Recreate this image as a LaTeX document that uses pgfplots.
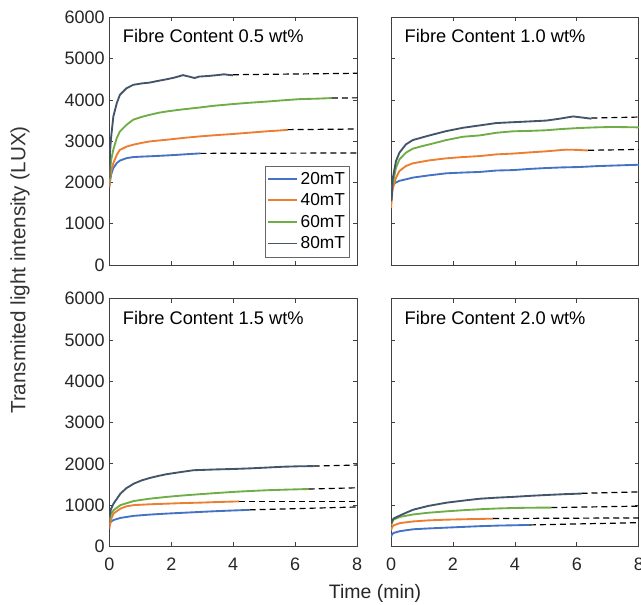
\documentclass[border=0pt]{standalone}
\usepackage{fontspec}
\setmainfont{Liberation Sans}
\usepackage{pgfplots}
\pgfplotsset{compat=1.18}
\usepgfplotslibrary{groupplots}

\definecolor{c20}{HTML}{4472C4}
\definecolor{c40}{HTML}{ED7D31}
\definecolor{c60}{HTML}{70AD47}
\definecolor{c80}{HTML}{44546A}

\tikzset{
  meas/.style={line width=1.4pt},
  fit/.style={black, line width=0.9pt, dash pattern=on 4.5pt off 3pt},
}
\newcommand{\paneltitle}[1]{%
  \node[anchor=base west, inner sep=0pt, font=\fontsize{13.7}{16}\selectfont, text=black]
    at ([xshift=10pt,yshift=-19pt]rel axis cs:0,1) {#1};}

\begin{document}
\begin{tikzpicture}
\begin{groupplot}[
  group style={group size=2 by 2, horizontal sep=25.5pt, vertical sep=25.2pt,
    xticklabels at=edge bottom, yticklabels at=edge left},
  scale only axis, width=185.8pt, height=185.8pt,
  xmin=0, xmax=8, ymin=0, ymax=6000,
  xtick={0,2,4,6,8}, ytick={0,1000,...,6000},
  tick align=inside, major tick length=3pt,
  axis line style={black!75, line width=0.6pt},
  every tick/.style={black!75, line width=0.6pt},
  tick label style={font=\fontsize{13.5}{16}\selectfont, text=black!85},
  xticklabel style={yshift=-5pt},
  /pgf/number format/assume math mode=true,
  /pgf/number format/1000 sep={},
  scaled ticks=false,
  legend cell align=left,
  legend image code/.code={\draw[#1] (0pt,0.3pt) -- (22pt,0.3pt);},
  legend style={at={(1,0)}, anchor=south east, xshift=-5.8pt, yshift=5.8pt,
    draw=black!60, line width=0.6pt, font=\fontsize{13}{15}\selectfont,
    inner xsep=1pt, inner ysep=2.5pt, row sep=1.6pt},
]
% ---- 0.5 wt% ----
\nextgroupplot
\paneltitle{Fibre Content 0.5 wt\%}
\addplot[meas, c20] coordinates {(0,1900)(0.02,2020)(0.06,2200)(0.13,2350)(0.24,2470)(0.34,2530)(0.56,2590)(0.77,2615)(1.0,2625)(1.31,2635)(1.6,2645)(1.85,2655)(2.2,2670)(2.5,2685)(2.94,2705)};
\addlegendentry{20mT}
\addplot[meas, c40] coordinates {(0,1880)(0.02,2050)(0.06,2280)(0.13,2470)(0.24,2670)(0.34,2790)(0.56,2870)(0.77,2915)(1.05,2960)(1.31,2995)(1.85,3035)(2.4,3080)(2.9,3115)(3.5,3150)(4.0,3175)(4.5,3205)(5.09,3240)(5.5,3260)(5.76,3275)};
\addlegendentry{40mT}
\addplot[meas, c60] coordinates {(0,2000)(0.02,2250)(0.06,2550)(0.13,2800)(0.24,3075)(0.34,3235)(0.56,3400)(0.77,3520)(1.05,3590)(1.31,3640)(1.6,3690)(1.85,3720)(2.3,3765)(2.9,3815)(3.4,3860)(4.0,3900)(4.5,3930)(5.09,3960)(5.6,3990)(6.17,4020)(6.7,4030)(7.19,4045)};
\addlegendentry{60mT}
\addplot[meas, c80] coordinates {(0,2100)(0.02,2700)(0.05,3040)(0.13,3600)(0.24,3920)(0.34,4120)(0.56,4285)(0.77,4365)(1.05,4400)(1.31,4420)(1.5,4450)(1.85,4500)(2.1,4540)(2.38,4600)(2.6,4560)(2.75,4530)(2.9,4565)(3.2,4580)(3.48,4600)(3.7,4620)(3.99,4595)};
\addlegendentry{80mT}
\addplot[fit, forget plot] coordinates {(2.94,2705)(8,2715)};
\addplot[fit, forget plot] coordinates {(5.76,3280)(8,3295)};
\addplot[fit, forget plot] coordinates {(7.19,4045)(8,4050)};
\addplot[fit, forget plot] coordinates {(3.99,4610)(8,4645)};

% ---- 1.0 wt% ----
\nextgroupplot
\paneltitle{Fibre Content 1.0 wt\%}
\addplot[meas, c20] coordinates {(0,1500)(0.02,1750)(0.05,1950)(0.16,2000)(0.27,2040)(0.48,2077)(0.7,2118)(1.24,2174)(1.78,2222)(2.3,2240)(2.86,2255)(3.4,2290)(3.94,2300)(4.5,2330)(5.01,2350)(5.5,2365)(6.09,2375)(6.6,2395)(7.17,2410)(8,2430)};
\addplot[meas, c40] coordinates {(0,1380)(0.02,1600)(0.05,1836)(0.16,2118)(0.27,2278)(0.48,2399)(0.7,2464)(1.0,2505)(1.24,2536)(1.78,2585)(2.3,2615)(2.86,2640)(3.4,2681)(3.94,2700)(4.5,2730)(5.01,2755)(5.4,2780)(5.66,2795)(6.0,2790)(6.36,2775)};
\addplot[meas, c60] coordinates {(0,1580)(0.02,1750)(0.05,1956)(0.16,2359)(0.27,2560)(0.48,2722)(0.7,2818)(1.0,2880)(1.24,2923)(1.78,3027)(2.32,3108)(2.86,3140)(3.4,3204)(3.94,3240)(4.5,3250)(5.01,3265)(5.5,3295)(6.09,3320)(6.6,3335)(7.17,3345)(8,3335)};
\addplot[meas, c80] coordinates {(0,1550)(0.02,1594)(0.05,2077)(0.16,2520)(0.27,2722)(0.48,2923)(0.7,3027)(1.0,3090)(1.24,3140)(1.78,3244)(2.32,3325)(2.86,3382)(3.4,3440)(3.94,3460)(4.5,3480)(5.01,3500)(5.4,3540)(5.88,3600)(6.1,3580)(6.47,3545)};
\addplot[fit] coordinates {(6.36,2780)(8,2800)};
\addplot[fit] coordinates {(6.47,3560)(8,3585)};

% ---- 1.5 wt% ----
\nextgroupplot
\paneltitle{Fibre Content 1.5 wt\%}
\addplot[meas, c20] coordinates {(0,510)(0.05,600)(0.14,640)(0.36,690)(0.79,740)(1.3,770)(1.86,795)(2.4,815)(2.94,835)(3.5,855)(4.0,870)(4.53,885)};
\addplot[meas, c40] coordinates {(0,430)(0.05,650)(0.14,800)(0.36,915)(0.55,970)(0.79,1000)(1.3,1020)(1.86,1035)(2.4,1050)(2.94,1060)(3.5,1075)(4.18,1090)};
\addplot[meas, c60] coordinates {(0,620)(0.05,780)(0.14,880)(0.36,1000)(0.79,1100)(1.3,1155)(1.86,1200)(2.4,1235)(2.94,1265)(3.5,1295)(4.01,1320)(4.5,1340)(5.09,1360)(5.7,1375)(6.44,1390)};
\addplot[meas, c80] coordinates {(0,700)(0.05,900)(0.14,1040)(0.36,1280)(0.55,1410)(0.79,1520)(1.05,1600)(1.32,1660)(1.6,1710)(1.86,1750)(2.3,1800)(2.72,1845)(3.1,1855)(3.48,1865)(4.0,1875)(4.55,1890)(5.1,1910)(5.63,1930)(6.1,1940)(6.6,1945)};
\addplot[fit] coordinates {(4.53,885)(8,955)};
\addplot[fit] coordinates {(4.18,1090)(8,1090)};
\addplot[fit] coordinates {(6.44,1390)(8,1420)};
\addplot[fit] coordinates {(6.6,1945)(8,1970)};

% ---- 2.0 wt% ----
\nextgroupplot
\paneltitle{Fibre Content 2.0 wt\%}
\addplot[meas, c20] coordinates {(0,230)(0.03,290)(0.08,325)(0.29,370)(0.72,415)(1.2,435)(1.8,455)(2.4,475)(2.87,490)(3.5,505)(4.0,512)(4.48,520)};
\addplot[meas, c40] coordinates {(0,390)(0.03,460)(0.08,510)(0.29,565)(0.72,605)(1.2,630)(1.8,648)(2.5,660)(3.3,672)};
\addplot[meas, c60] coordinates {(0,510)(0.03,570)(0.08,650)(0.29,715)(0.72,775)(1.2,815)(1.8,850)(2.4,880)(2.87,900)(3.4,918)(3.95,930)(4.5,937)(5.18,940)};
\addplot[meas, c80] coordinates {(0,550)(0.03,620)(0.08,675)(0.29,750)(0.5,820)(0.72,890)(1.2,980)(1.8,1060)(2.4,1115)(2.87,1155)(3.4,1180)(3.95,1200)(4.5,1225)(5.02,1245)(5.6,1265)(6.15,1280)};
\addplot[fit] coordinates {(4.48,520)(8,575)};
\addplot[fit] coordinates {(3.3,675)(8,690)};
\addplot[fit] coordinates {(5.18,940)(8,975)};
\addplot[fit] coordinates {(6.15,1285)(8,1320)};
\end{groupplot}

% shared axis titles
\node[rotate=90, anchor=center, font=\fontsize{15.5}{18}\selectfont, text=black!80]
  at ([xshift=-67pt,yshift=-189.5pt]group c1r1.north west) {Transmited light intensity (LUX)};
\node[anchor=base, font=\fontsize{14.6}{17}\selectfont, text=black!85]
  at ([xshift=199.3pt,yshift=-435.5pt]group c1r1.north west) {Time (min)};

\pgfresetboundingbox
\path[use as bounding box] ([xshift=-82pt,yshift=13pt]group c1r1.north west) rectangle ++(480.75pt,-453pt);
\end{tikzpicture}
\end{document}
